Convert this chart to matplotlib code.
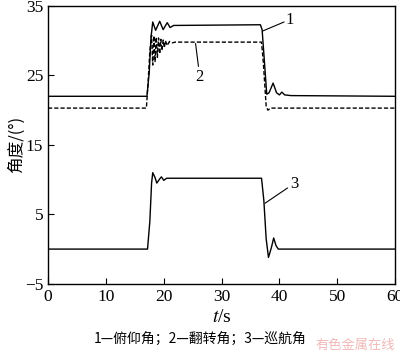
import matplotlib
matplotlib.use('Agg')
import matplotlib.pyplot as plt

plt.rcParams['font.family'] = ['Liberation Serif', 'Noto Sans CJK SC', 'DejaVu Sans']
plt.rcParams['mathtext.fontset'] = 'stix'

# curve 1 : pitch angle
t1 = [0, 17.1, 17.5, 17.8, 18.1, 18.6, 19.3, 19.9, 20.6, 21.1, 21.7,
      36.7, 37.0, 37.4, 37.8, 38.2, 38.9, 39.5, 40.0, 40.4, 40.9, 42.0, 60]
y1 = [22.0, 22.0, 25.5, 30.5, 32.7, 31.5, 32.8, 31.6, 32.6, 31.9, 32.2,
      32.3, 31.6, 27.0, 22.3, 22.5, 23.9, 22.5, 22.2, 22.6, 22.2, 22.1, 22.0]

# curve 2 : roll angle (dashed)
t2 = [0, 17.0, 17.3, 17.6, 17.9, 18.1, 18.3, 18.5, 18.7, 18.9, 19.1, 19.3,
      19.5, 19.7, 19.9, 20.1, 20.3, 20.6, 21.0, 21.5, 22.0,
      36.9, 37.2, 37.7, 38.0, 38.5, 60]
y2 = [20.3, 20.3, 24.0, 28.5, 30.8, 26.5, 30.7, 27.0, 30.5, 27.6, 30.4, 28.1,
      30.2, 28.6, 30.1, 29.0, 30.0, 29.3, 29.9, 29.7, 29.8,
      29.8, 27.0, 20.6, 20.0, 20.3, 20.3]

# curve 3 : yaw angle
t3 = [0, 17.2, 17.6, 17.9, 18.1, 18.5, 18.8, 19.3, 19.6, 20.0, 20.5, 21.0,
      36.9, 37.3, 37.7, 38.1, 38.6, 39.0, 39.4, 39.8, 40.5, 60]
y3 = [0.0, 0.0, 4.0, 9.5, 11.0, 10.3, 9.5, 10.1, 10.4, 9.9, 10.2, 10.2,
      10.2, 7.0, 1.5, -1.2, 0.2, 1.6, 0.5, 0.0, 0.0, 0.0]

xticks = [0, 10, 20, 30, 40, 50, 60]
yticks = [-5, 5, 15, 25, 35]

cjk = ['Noto Sans CJK SC', 'DejaVu Sans']

fig = plt.figure(figsize=(4, 3.53), dpi=100)
ax = fig.add_axes([0.12, 0.196, 0.868, 0.787])

ax.plot(t1, y1, color='black', lw=1.0)
ax.plot(t2, y2, color='black', lw=1.0, linestyle=(0, (3, 1.5)))
ax.plot(t3, y3, color='black', lw=1.0)

# curve labels with leader lines
lead = dict(arrowstyle='-', color='black', lw=0.8, shrinkA=0, shrinkB=0)
ax.annotate('', xy=(37.1, 31.4), xytext=(40.8, 32.7), arrowprops=lead)
ax.text(41.0, 33.0, '1', fontsize=12, ha='left', va='center')
ax.annotate('', xy=(25.5, 29.6), xytext=(26.0, 26.3), arrowprops=lead)
ax.text(26.2, 24.8, '2', fontsize=12, ha='center', va='center')
ax.annotate('', xy=(37.5, 6.6), xytext=(41.4, 8.8), arrowprops=lead)
ax.text(41.8, 9.3, '3', fontsize=12, ha='left', va='center')

ax.set_xlim(0, 60)
ax.set_ylim(-5, 35)
ax.set_xticks(xticks)
ax.set_yticks(yticks)
ax.tick_params(direction='in', length=4, labelsize=12.5)
for s in ax.spines.values():
    s.set_linewidth(1.0)

ax.set_xlabel('$t$/s', fontsize=14, labelpad=3)
ax.set_ylabel('角度/(°)', fontsize=12, family=cjk)
ax.yaxis.set_label_coords(-0.065, 0.5)

fig.text(0.5, 0.037, '1—俯仰角；2—翻转角；3—巡航角', ha='center', va='center',
         fontsize=10, family=cjk)
fig.text(0.988, 0.02, '有色金属在线', ha='right', va='center', fontsize=9.5,
         color='#f2b8b8', family=cjk)

fig.savefig('out.png', dpi=100)
